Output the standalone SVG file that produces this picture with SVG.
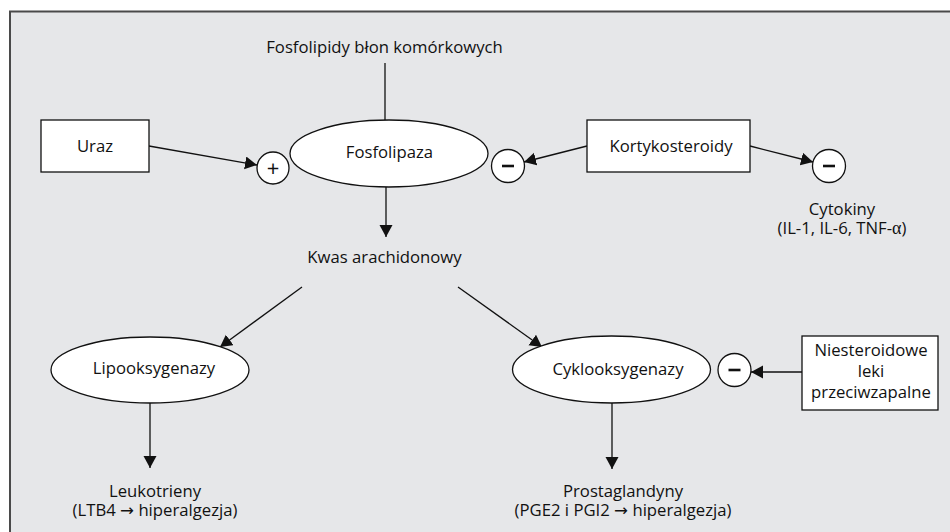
<svg xmlns="http://www.w3.org/2000/svg" width="950" height="532" viewBox="0 0 950 532">
<style>
  text { font-family: "Open Sans", "Noto Sans", "DejaVu Sans", sans-serif; font-size: 16.7px; fill: #111; text-anchor: middle; }
  .shape { fill: #fff; stroke: #111; stroke-width: 1.3; }
  .conn { stroke: #111; stroke-width: 1.3; fill: none; }
  .sign { font-size: 22px; }
  .minus { stroke: #111; stroke-width: 2.6; }
  .greek { font-family: "Liberation Serif", "DejaVu Serif", serif; font-size: 18px; }
</style>
<defs>
  <marker id="arr" markerUnits="userSpaceOnUse" markerWidth="13" markerHeight="14" refX="12" refY="6.5" orient="auto">
    <path d="M0,0 L12,6.5 L0,13 z" fill="#111"/>
  </marker>
</defs>
<rect x="0" y="0" width="950" height="532" fill="#fff"/>
<rect id="frame" x="10" y="11.5" width="960" height="540" fill="#e6e7e9" stroke="#4a4a4a" stroke-width="2"/>

<g id="connectors">
  <line class="conn" x1="385" y1="63" x2="385" y2="120"/>
  <line class="conn" x1="386" y1="187" x2="386" y2="237" marker-end="url(#arr)"/>
  <line class="conn" x1="149" y1="146" x2="257" y2="165" marker-end="url(#arr)"/>
  <line class="conn" x1="587" y1="146" x2="524" y2="162" marker-end="url(#arr)"/>
  <line class="conn" x1="750" y1="146" x2="813" y2="162" marker-end="url(#arr)"/>
  <line class="conn" x1="302" y1="287" x2="220" y2="347" marker-end="url(#arr)"/>
  <line class="conn" x1="458" y1="287" x2="542" y2="347" marker-end="url(#arr)"/>
  <line class="conn" x1="150" y1="403" x2="150" y2="468" marker-end="url(#arr)"/>
  <line class="conn" x1="612" y1="403" x2="612" y2="469" marker-end="url(#arr)"/>
  <line class="conn" x1="802" y1="372" x2="751" y2="372" marker-end="url(#arr)"/>
</g>

<g id="fosfolipidy">
  <text x="384.5" y="53">Fosfolipidy błon komórkowych</text>
</g>

<g id="fosfolipaza">
  <ellipse class="shape" cx="389" cy="153.5" rx="99" ry="33.5"/>
  <text x="389.5" y="158">Fosfolipaza</text>
</g>

<g id="uraz">
  <rect class="shape" x="41" y="120" width="108" height="52"/>
  <text x="95" y="152">Uraz</text>
</g>

<g id="plus">
  <circle class="shape" cx="273" cy="168" r="16"/>
  <text class="sign" x="273" y="175.5">+</text>
</g>

<g id="kortykosteroidy">
  <rect class="shape" x="587" y="120" width="163" height="52"/>
  <text x="671" y="152">Kortykosteroidy</text>
</g>

<g id="minus-fosfolipaza">
  <circle class="shape" cx="508" cy="166" r="16.5"/>
  <line class="minus" x1="502" y1="166" x2="514" y2="166"/>
</g>

<g id="minus-cytokiny">
  <circle class="shape" cx="829" cy="166" r="16.5"/>
  <line class="minus" x1="823" y1="166" x2="835" y2="166"/>
</g>

<g id="cytokiny">
  <text x="842" y="215">Cytokiny<tspan x="842" y="233.5">(IL-1, IL-6, TNF-<tspan class="greek">α</tspan>)</tspan></text>
</g>

<g id="kwas">
  <text x="384.5" y="263">Kwas arachidonowy</text>
</g>

<g id="lipooksygenazy">
  <ellipse class="shape" cx="150" cy="370" rx="99" ry="33"/>
  <text x="154" y="374">Lipooksygenazy</text>
</g>

<g id="cyklooksygenazy">
  <ellipse class="shape" cx="611.5" cy="369.5" rx="99" ry="33.5"/>
  <text x="618" y="375">Cyklooksygenazy</text>
</g>

<g id="minus-cox">
  <circle class="shape" cx="734.5" cy="370" r="16.5"/>
  <line class="minus" x1="728.5" y1="370" x2="740.5" y2="370"/>
</g>

<g id="nlpz">
  <rect class="shape" x="802" y="336" width="136" height="74"/>
  <text x="871" y="356">Niesteroidowe<tspan x="871" y="377">leki</tspan><tspan x="871" y="398">przeciwzapalne</tspan></text>
</g>

<g id="leukotrieny">
  <text x="155" y="497">Leukotrieny<tspan x="155" y="515.5">(LTB4 → hiperalgezja)</tspan></text>
</g>

<g id="prostaglandyny">
  <text x="623" y="497">Prostaglandyny<tspan x="623" y="515.5">(PGE2 i PGI2 → hiperalgezja)</tspan></text>
</g>
</svg>
